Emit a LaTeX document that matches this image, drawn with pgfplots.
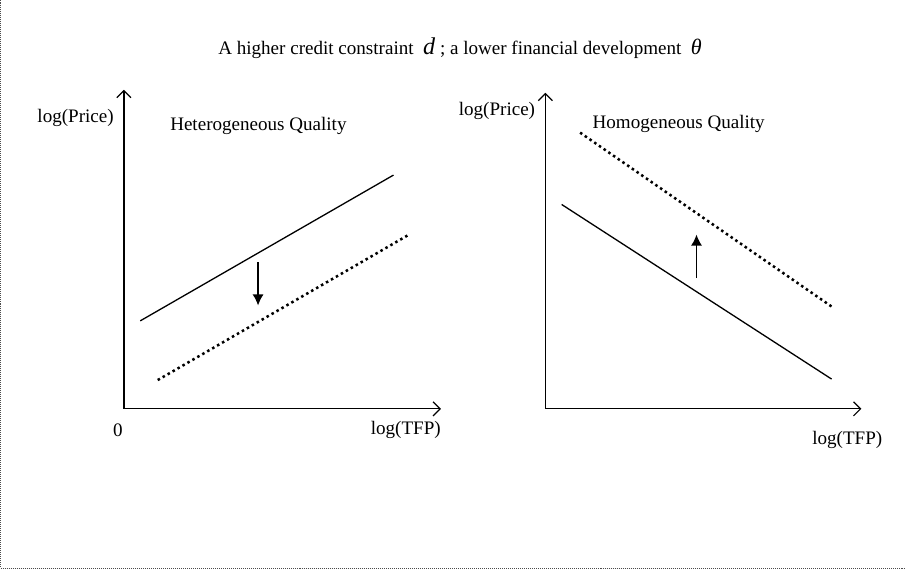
\documentclass[border=0pt]{standalone}
\usepackage{fontspec}
\setmainfont{Liberation Serif}
\usepackage{pgfplots}
\pgfplotsset{compat=1.18}
\usetikzlibrary{arrows.meta}
\tikzset{
  lbl/.style={inner sep=0pt, font=\fontsize{19}{23}\selectfont},
  dotline/.style={black, line width=2.5pt, dash pattern=on 2.5pt off 3.2pt},
  solidline/.style={black, line width=1.3pt},
  shiftarrow/.style={black, line width=1.4pt, -{Latex[length=11pt,width=11pt]}},
}
\pgfplotsset{
  panel/.style={
    anchor=south west, x=1pt, y=1pt, xmin=0, ymin=0,
    axis lines*=left,
    axis line style={line width=1.2pt, -{Straight Barb[length=7pt,width=14pt]}},
    xtick=\empty, ytick=\empty, clip=false,
  }
}
\begin{document}
\begin{tikzpicture}
\begin{axis}[x=1pt, y=1pt, xmin=0, xmax=906, ymin=0, ymax=571, hide axis, clip=false, anchor=south west, at={(0pt,0pt)}]
\addplot[black!70, line width=1pt, dash pattern=on 1pt off 1pt] coordinates {(4,571) (4,5) (906,5)};
\node[lbl] at (axis cs:462,523) {A higher credit constraint \ \textit{\fontsize{24}{24}\selectfont d} ; a lower financial development \ \textit{\fontsize{22}{22}\selectfont θ}};
\node[lbl, anchor=east] at (axis cs:117,454) {log(Price)};
\node[lbl, anchor=west] at (axis cs:173,446) {Heterogeneous Quality};
\node[lbl] at (axis cs:121,143) {0};
\node[lbl, anchor=east] at (axis cs:443,143) {log(TFP)};
\node[lbl, anchor=east] at (axis cs:537,461) {log(Price)};
\node[lbl, anchor=west] at (axis cs:594,448) {Homogeneous Quality};
\node[lbl, anchor=east] at (axis cs:883,133) {log(TFP)};
\end{axis}
% Left panel: heterogeneous quality
\begin{axis}[panel, at={(127pt,164pt)}, xmax=316, ymax=318]
\addplot[solidline] coordinates {(16.3,87.7) (268.7,233)};
\addplot[dotline] coordinates {(33.7,28.7) (283,173)};
\addplot[shiftarrow] coordinates {(133.7,146) (133.7,103)};
\end{axis}
% Right panel: homogeneous quality
\begin{axis}[panel, at={(547pt,164pt)}, xmax=315, ymax=315]
\addplot[solidline] coordinates {(16.3,203.7) (285.3,29.7)};
\addplot[dotline] coordinates {(34.7,275.3) (285.3,102)};
\addplot[shiftarrow] coordinates {(150.7,130.3) (150.7,173.7)};
\end{axis}
\end{tikzpicture}
\end{document}
